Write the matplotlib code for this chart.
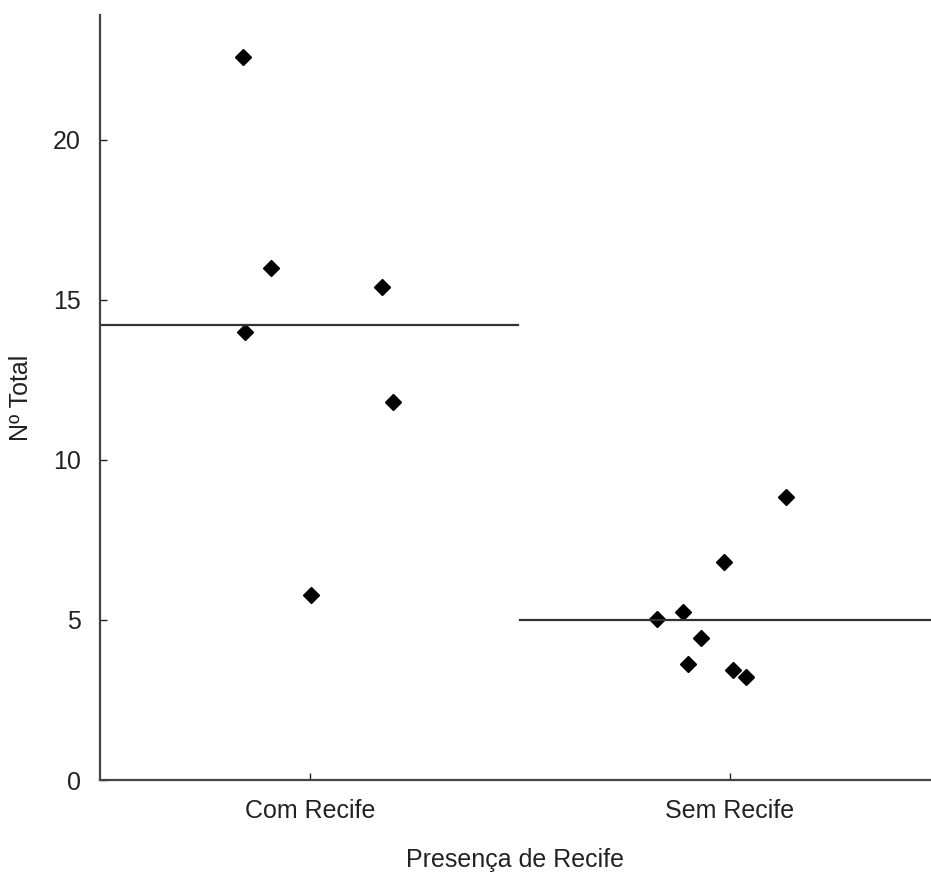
import matplotlib.pyplot as plt
import numpy as np

plt.rcParams['font.family'] = ['Liberation Sans', 'DejaVu Sans']

categories = ["Com Recife", "Sem Recife"]

# jitter offsets (x) and values (y)
com_x = [-0.16, -0.093, -0.155, 0.171, 0.198, 0.002]
com_y = [22.6, 16.0, 14.0, 15.4, 11.8, 5.78]
sem_x = [0.133, -0.014, -0.174, -0.112, -0.069, -0.10, 0.007, 0.038]
sem_y = [8.84, 6.81, 5.03, 5.25, 4.44, 3.63, 3.44, 3.22]
# group mean lines as drawn in the picture
means = [14.22, 5.0]

fig = plt.figure(figsize=(9.31, 8.72), dpi=100)
ax = fig.add_axes([100/931, 92/872, 831/931, 765/872])

groups = [(com_x, com_y), (sem_x, sem_y)]
for i, (xs, ys) in enumerate(groups):
    ax.plot(i + np.array(xs), ys, 'D', color='black', markersize=8, linestyle='none')
    ax.plot([i - 0.5, i + 0.495], [means[i], means[i]], color='#333333', lw=1.6)

ax.set_xlim(-0.5, 1.4786)
ax.set_ylim(0, 23.9)
ax.set_xticks([0, 1])
ax.set_xticklabels(categories)
ax.set_yticks([0, 5, 10, 15, 20])

for s in ['top', 'right']:
    ax.spines[s].set_visible(False)
for s in ['left', 'bottom']:
    ax.spines[s].set_color('#444444')
    ax.spines[s].set_linewidth(1.6)

ax.tick_params(direction='in', length=5, width=1, colors='#222222', labelsize=18)
ax.tick_params(axis='x', pad=14)
ax.tick_params(axis='y', pad=14)
ax.set_xlabel('Presença de Recife', fontsize=18, color='#222222', labelpad=18)
ax.set_ylabel('Nº Total', fontsize=18, color='#222222', labelpad=14)

fig.savefig('out.png', dpi=100)
